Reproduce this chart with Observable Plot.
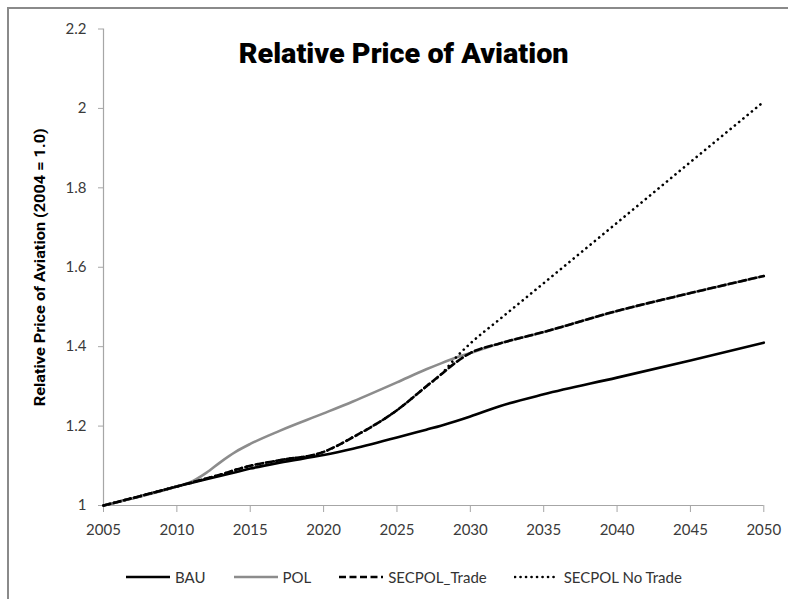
<!DOCTYPE html>
<html>
<head>
<meta charset="utf-8">
<script src="https://cdn.jsdelivr.net/npm/d3@7"></script>
<script src="https://cdn.jsdelivr.net/npm/@observablehq/plot@0.6"></script>
<style>
  html, body { margin: 0; padding: 0; background: #fff; }
  #wrap { position: relative; width: 788px; height: 599px; overflow: hidden; background: #fff; }
  #chart { position: absolute; left: 0; top: 0; }
  #frame { position: absolute; left: 7px; top: 7px; right: -10px; bottom: -10px;
           border-left: 2px solid #8a8a8a; border-top: 2px solid #8a8a8a; pointer-events: none; }
  #legend { position: absolute; left: 125px; top: 567px; display: flex; align-items: center;
            font-family: Lato, "Open Sans", sans-serif; font-size: 15px; color: #333; }
  .item { display: flex; align-items: center; }
  .item svg { margin-right: 4px; }
</style>
</head>
<body>
<div id="wrap">
  <div id="chart"></div>
  <div id="frame"></div>
  <div id="legend"></div>
</div>
<script>
const years    = [2005, 2007, 2010, 2011, 2012, 2013, 2014, 2015, 2017, 2020, 2022, 2025, 2027, 2028, 2029, 2030, 2032, 2035, 2040, 2045, 2050];
const bau      = [1.000, 1.018, 1.048, 1.057, 1.066, 1.075, 1.084, 1.093, 1.108, 1.127, 1.143, 1.171, 1.191, 1.201, 1.212, 1.224, 1.250, 1.280, 1.322, 1.365, 1.410];
const pol      = [1.000, 1.018, 1.048, 1.060, 1.082, 1.110, 1.135, 1.155, 1.188, 1.232, 1.262, 1.310, 1.343, 1.358, 1.372, 1.384, 1.408, 1.437, 1.490, 1.535, 1.578];
const secTrade = [1.000, 1.019, 1.048, 1.058, 1.068, 1.078, 1.090, 1.100, 1.114, 1.135, 1.172, 1.240, 1.300, 1.330, 1.360, 1.384, 1.408, 1.437, 1.490, 1.535, 1.578];
const secNoTrade = [1.000, 1.019, 1.048, 1.058, 1.068, 1.078, 1.090, 1.100, 1.114, 1.135, 1.172, 1.240, 1.300, 1.330, 1.372, 1.408, 1.469, 1.560, 1.712, 1.865, 2.017];
const seriesNames = ["BAU", "POL", "SECPOL_Trade", "SECPOL No Trade"];
const xTicks = [2005, 2010, 2015, 2020, 2025, 2030, 2035, 2040, 2045, 2050];
const yTicks = [1, 1.2, 1.4, 1.6, 1.8, 2, 2.2];
const title = "Relative Price of Aviation";
const yLabel = "Relative Price of Aviation (2004 = 1.0)";

const seriesValues = [bau, pol, secTrade, secNoTrade];
const styles = {
  "BAU": {stroke: "#000", strokeWidth: 2.6},
  "POL": {stroke: "#8c8c8c", strokeWidth: 2.6},
  "SECPOL_Trade": {stroke: "#000", strokeWidth: 2.6, strokeDasharray: "7,3.5"},
  "SECPOL No Trade": {stroke: "#000", strokeWidth: 2.6, strokeDasharray: "0.1,5.4", strokeLinecap: "round"}
};
const data = seriesNames.map((name, i) => years.map((year, j) => ({name, year, value: seriesValues[i][j]})));
const drawOrder = ["BAU", "POL", "SECPOL No Trade", "SECPOL_Trade"];

const tickFont = "Lato, 'Open Sans', sans-serif";
const headFont = "Roboto, 'Liberation Sans', sans-serif";

const plot = Plot.plot({
  width: 788,
  height: 560,
  marginLeft: 103,
  marginRight: 24.7,
  marginTop: 28.5,
  marginBottom: 55,
  style: {background: "transparent", overflow: "visible"},
  x: {domain: [2005, 2050]},
  y: {domain: [1, 2.2]},
  marks: [
    Plot.axisX({ticks: xTicks, tickFormat: d => String(d), tickSize: 7, tickPadding: 12, label: null,
                stroke: "#a6a6a6", fill: "#3a3a3a", fontSize: 15, fontFamily: tickFont}),
    Plot.axisY({ticks: yTicks, tickFormat: d => String(d), tickSize: 5, tickPadding: 12, label: null,
                stroke: "#a6a6a6", fill: "#3a3a3a", fontSize: 15, fontFamily: tickFont}),
    Plot.ruleX([2005], {stroke: "#a6a6a6", strokeWidth: 1.2}),
    Plot.ruleY([1], {stroke: "#a6a6a6", strokeWidth: 1.2}),
    ...drawOrder.map(name => Plot.line(data[seriesNames.indexOf(name)], {
      x: "year", y: "value", curve: "monotone-x", ...styles[name]
    })),
    Plot.text([title], {frameAnchor: "top", dx: -30, dy: 14.5, fontSize: 28, fontWeight: 900,
                        fontFamily: headFont, fill: "#000"}),
    Plot.text([yLabel], {frameAnchor: "left", textAnchor: "middle", rotate: -90, dx: -63, fontSize: 15.5, fontWeight: "bold",
                         fontFamily: headFont, fill: "#000"})
  ]
});
// condense the heading texts to the narrow width of the original lettering
d3.select(plot).selectAll("text").each(function () {
  if (this.textContent === title) d3.select(this).attr("textLength", 330).attr("lengthAdjust", "spacingAndGlyphs");
  if (this.textContent === yLabel) d3.select(this).attr("textLength", 278).attr("lengthAdjust", "spacingAndGlyphs");
});
document.getElementById("chart").appendChild(plot);

// legend
const legend = document.getElementById("legend");
const gaps = [27, 27, 27, 0];
seriesNames.forEach((name, i) => {
  const s = styles[name];
  const item = document.createElement("div");
  item.className = "item";
  item.style.marginRight = gaps[i] + "px";
  const w = 46;
  item.innerHTML = `<svg width="${w}" height="20"><line x1="1" x2="${w - 1}" y1="10" y2="10" stroke="${s.stroke}" stroke-width="${s.strokeWidth}" ${s.strokeDasharray ? `stroke-dasharray="${s.strokeDasharray}"` : ""} ${s.strokeLinecap ? `stroke-linecap="${s.strokeLinecap}"` : ""}/></svg><span>${name}</span>`;
  legend.appendChild(item);
});
</script>
</body>
</html>
